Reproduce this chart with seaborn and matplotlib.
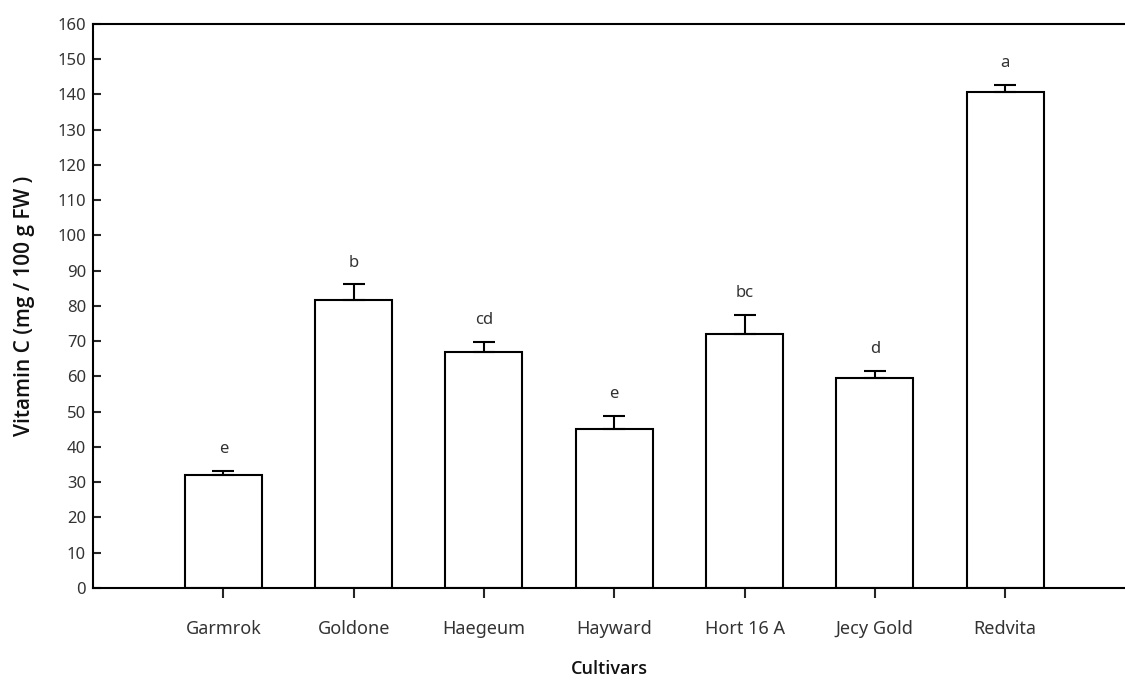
import pandas as pd
import seaborn as sns
import matplotlib.pyplot as plt

# Vitamin C content by kiwifruit cultivar
cultivars = ['Garmrok', 'Goldone', 'Haegeum', 'Hayward', 'Hort 16 A', 'Jecy Gold', 'Redvita']
vitamin_c = [32.0, 81.7, 67.0, 45.1, 72.0, 59.5, 140.8]
sem = [1.2, 4.4, 2.9, 3.7, 5.4, 2.0, 2.0]
letters = ['e', 'b', 'cd', 'e', 'bc', 'd', 'a']

df = pd.DataFrame({'Cultivar': cultivars, 'VitC': vitamin_c})

sns.set_style('ticks')
plt.rcParams['font.family'] = ['Noto Sans', 'DejaVu Sans']

fig = plt.figure(figsize=(11.25, 6.81), dpi=100)
ax = fig.add_axes([0.0827, 0.1366, 0.9173, 0.8282])

sns.barplot(data=df, x='Cultivar', y='VitC', color='white', edgecolor='black',
            linewidth=1.5, width=0.59, ax=ax)

# one-sided (upper) error bars
ax.errorbar(range(len(cultivars)), vitamin_c, yerr=[[0] * len(sem), sem],
            fmt='none', ecolor='black', elinewidth=1.5, capsize=8, capthick=1.5)

for i, (v, e, l) in enumerate(zip(vitamin_c, sem, letters)):
    ax.annotate(l, (i, v + e), xytext=(0, 10), textcoords='offset points',
                ha='center', va='bottom', fontsize=12, color='#333333')

ax.set_xlim(-1.0, 6.92)
ax.set_ylim(0, 160)
ax.set_yticks(range(0, 161, 10))

for s in ['left', 'bottom', 'top']:
    ax.spines[s].set_linewidth(1.5)
    ax.spines[s].set_color('black')
ax.spines['right'].set_visible(False)

ax.tick_params(axis='y', direction='in', length=6, width=1.5, labelsize=12,
               labelcolor='#333333', pad=5)
ax.tick_params(axis='x', direction='out', length=7, width=1.5, labelsize=13,
               labelcolor='#333333', pad=16)

ax.set_xlabel('Cultivars', fontsize=13, family=['Open Sans', 'DejaVu Sans'],
              fontweight='semibold', color='#111111', labelpad=16)
ax.set_ylabel('Vitamin C (mg / 100 g FW )', fontsize=15, family=['Open Sans', 'DejaVu Sans'],
              fontweight='semibold', color='#111111', labelpad=16)

plt.savefig('out.png', dpi=100)
